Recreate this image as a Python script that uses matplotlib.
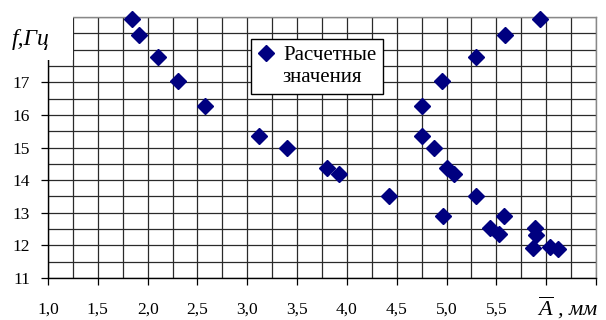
import matplotlib
matplotlib.use("Agg")
import matplotlib.pyplot as plt
from matplotlib.patches import Rectangle
from matplotlib.lines import Line2D
import numpy as np

plt.rcParams['font.family'] = ['Liberation Serif', 'DejaVu Serif']
plt.rcParams['mathtext.fontset'] = 'custom'
plt.rcParams['mathtext.it'] = 'Liberation Serif:italic'
plt.rcParams['mathtext.rm'] = 'Liberation Serif'

amp_mm = [1.84, 1.91, 2.10, 2.30, 2.58, 3.12, 3.40, 3.80, 3.92, 4.42,
          4.75, 4.75, 4.87, 5.00, 5.07, 4.96, 5.30, 5.58, 5.44, 5.53,
          5.89, 5.90, 5.87, 6.04, 6.12, 4.95, 5.30, 5.59, 5.94]
freq_hz = [18.94, 18.45, 17.77, 17.03, 16.26, 15.34, 14.97, 14.36, 14.20, 13.52,
           16.26, 15.34, 14.97, 14.36, 14.20, 12.90, 13.52, 12.90, 12.52, 12.34,
           12.52, 12.32, 11.91, 11.95, 11.88, 17.03, 17.77, 18.45, 18.94]

x_ticks = [1.0, 1.5, 2.0, 2.5, 3.0, 3.5, 4.0, 4.5, 5.0, 5.5, 6.0, 6.5]
x_tick_labels = ['1,0', '1,5', '2,0', '2,5', '3,0', '3,5', '4,0', '4,5', '5,0', '5,5', '', '']
y_ticks = [11, 12, 13, 14, 15, 16, 17]
legend_line1 = 'Расчетные'
legend_line2 = 'значения'

W, H = 606, 320
fig = plt.figure(figsize=(W / 100, H / 100), dpi=100)
ax = fig.add_axes([48 / W, 1 - 278 / H, (596 - 48) / W, (278 - 17) / H])

ax.set_xlim(1.0, 6.5)
ax.set_ylim(11, 19)
ax.set_xticks(np.arange(1.0, 6.51, 0.25), minor=True)
ax.set_yticks(np.arange(11, 19.01, 0.5), minor=True)
ax.set_xticks(x_ticks)
ax.set_xticklabels(x_tick_labels, fontsize=12.5)
ax.set_yticks(y_ticks)
ax.set_yticklabels([str(v) for v in y_ticks], fontsize=12.5)
ax.grid(True, which='both', color='#2a2a2a', linewidth=0.9)
ax.set_axisbelow(True)
ax.tick_params(which='minor', length=0)
ax.tick_params(axis='x', which='major', length=5, width=0.9, pad=12, color='black')
ax.tick_params(axis='y', which='major', length=5, width=0.9, pad=8, color='black')
for s in ['left', 'bottom']:
    ax.spines[s].set_color('black')
    ax.spines[s].set_linewidth(1.0)
for s in ['top', 'right']:
    ax.spines[s].set_color('#888888')
    ax.spines[s].set_linewidth(1.0)

pts, = ax.plot(amp_mm, freq_hz, linestyle='none', marker='D', markersize=8.5,
               color='#000080', clip_on=False, zorder=3)

blank = Line2D([], [], linestyle='none', marker=None)
leg = ax.legend([pts, blank], [legend_line1, legend_line2], loc='upper left',
                bbox_to_anchor=((251 - 48) / (596 - 48), 1 - (39 - 17) / (278 - 17)),
                fontsize=15, frameon=True, fancybox=False, edgecolor='black',
                handlelength=0.75, handletextpad=0.45, borderpad=0.33, borderaxespad=0,
                labelspacing=0.1)
leg.get_frame().set_linewidth(1.0)
leg.get_frame().set_alpha(1)
leg.set_zorder(5)

# white box behind the y-axis label
fig.add_artist(Rectangle((0, 1 - 60 / H), 73 / W, 60 / H, transform=fig.transFigure,
                         facecolor='white', edgecolor='none', zorder=10))
fig.text(31 / W, 1 - 40 / H, 'f,Гц', fontsize=17, style='italic', ha='center', va='center', zorder=11)
fig.text(568 / W, 1 - 316 / H, r'$\overline{A}$ , мм', fontsize=16, style='italic',
         ha='center', va='baseline')

fig.savefig('out.png', dpi=100)
